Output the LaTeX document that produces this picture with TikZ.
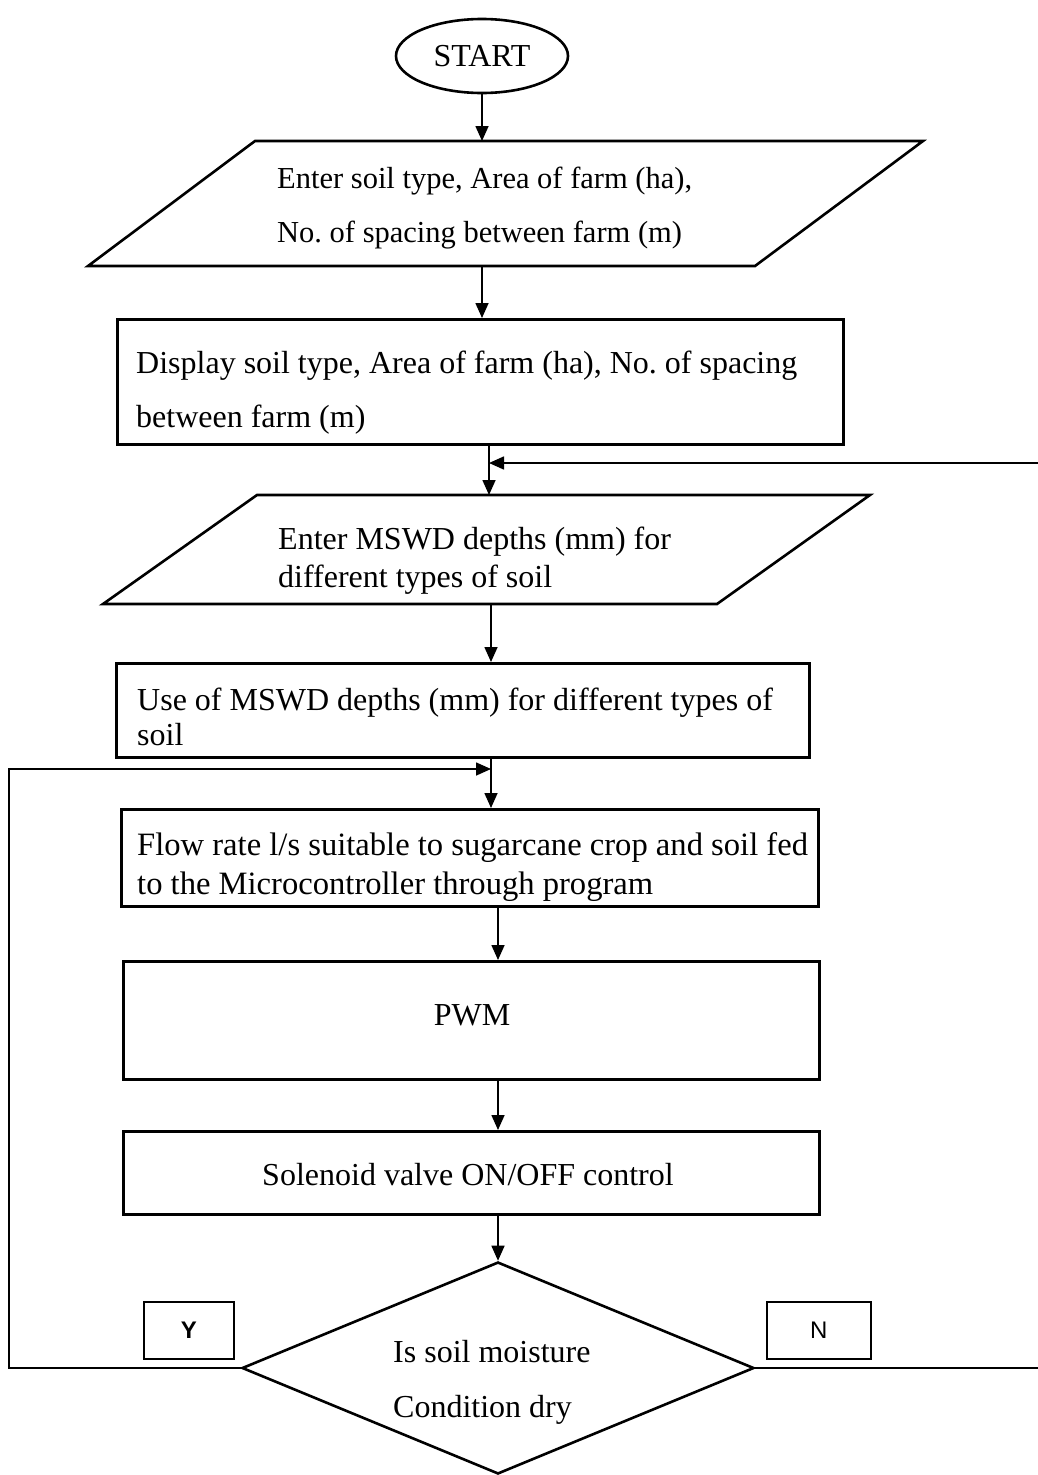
\documentclass[tikz,border=0pt]{standalone}
\usepackage{fontspec}
\setmainfont{Liberation Serif}
\setsansfont{Liberation Sans}
\usetikzlibrary{arrows.meta,shapes.geometric,calc}
\frenchspacing
\begin{document}
\begin{tikzpicture}[x=1pt,y=-1pt,
  shapeline/.style={line width=2.6pt,line join=miter},
  box/.style={draw,line width=2.6pt,inner sep=0pt,anchor=north west},
  lbl/.style={font=\fontsize{32}{38}\selectfont,inner sep=0pt,anchor=base west},
  conn/.style={line width=1.6pt,-{Triangle[length=15pt,width=13pt]}},
  loopline/.style={line width=1.6pt},
  ynbox/.style={draw,line width=1.8pt,inner sep=0pt,anchor=north west,font=\sffamily\fontsize{24}{28}\selectfont}]
\path[use as bounding box,clip] (0,0) rectangle (1038,1475);

% START
\node[ellipse,draw,shapeline,minimum width=172pt,minimum height=74pt,inner sep=0pt,font=\fontsize{32}{38}\selectfont] (start) at (482,56) {START};

% Input 1
\draw[shapeline] (255,141) -- (923,141) -- (755,266) -- (88,266) -- cycle;
\coordinate (p1n) at (482,141);
\coordinate (p1s) at (482,266);
\node[lbl,font=\fontsize{30.5}{36}\selectfont] (t1a) at (277,188) {Enter soil type, Area of farm (ha),};
\node[lbl,font=\fontsize{30.5}{36}\selectfont] (t1b) at (277,242) {No. of spacing between farm (m)};

% Display
\node[box,minimum width=726pt,minimum height=125pt] (r2) at (116,318) {};
\node[lbl] (t2a) at (136,373) {Display soil type, Area of farm (ha), No. of spacing};
\node[lbl] (t2b) at (136,427) {between farm (m)};

% Input 2
\draw[shapeline] (257,495) -- (870,495) -- (717,604) -- (103,604) -- cycle;
\coordinate (p2n) at (489,495);
\coordinate (p2s) at (491,604);
\coordinate (jn1) at (489,463);
\node[lbl] (t3a) at (278,549) {Enter MSWD depths (mm) for};
\node[lbl] (t3b) at (278,587) {different types of soil};

% Use of MSWD
\node[box,minimum width=693pt,minimum height=94pt] (r3) at (115,662) {};
\node[lbl] (t4a) at (137,710) {Use of MSWD depths (mm) for different types of};
\node[lbl] (t4b) at (137,745) {soil};
\coordinate (jn2) at (491,769);

% Flow rate
\node[box,minimum width=697pt,minimum height=97pt] (r4) at (120,808) {};
\node[lbl,font=\fontsize{32.6}{38}\selectfont] (t5a) at (137,855) {Flow rate l/s suitable to sugarcane crop and soil fed};
\node[lbl,font=\fontsize{32.6}{38}\selectfont] (t5b) at (137,894) {to the Microcontroller through program};

% PWM
\node[box,minimum width=696pt,minimum height=118pt] (r5) at (122,960) {};
\node[font=\fontsize{32}{38}\selectfont,inner sep=0pt] (t6) at (472,1015) {PWM};

% Solenoid
\node[box,minimum width=696pt,minimum height=83pt] (r6) at (122,1130) {};
\node[font=\fontsize{32}{38}\selectfont,inner sep=0pt] (t7) at (468,1175) {Solenoid valve ON/OFF control};

% Decision
\node[diamond,draw,shapeline,minimum width=512pt,minimum height=212pt,inner sep=0pt] (dec) at (498,1368) {};
\node[lbl] (t8a) at (393,1362) {Is soil moisture};
\node[lbl] (t8b) at (393,1417) {Condition dry};

% Y / N boxes
\node[ynbox,minimum width=90pt,minimum height=57pt,font=\sffamily\bfseries\fontsize{24}{28}\selectfont] (ybox) at (143,1301) {Y};
\node[ynbox,minimum width=104pt,minimum height=57pt] (nbox) at (766,1301) {N};

% connectors
\draw[conn] (start.south) -- (p1n);
\draw[conn] (p1s) -- (r2.north -| p1s);
\draw[conn] (r2.south -| p2n) -- (p2n);
\draw[conn] (p2s) -- (r3.north -| p2s);
\draw[conn] (r3.south -| jn2) -- (r4.north -| jn2);
\draw[conn] (r4.south -| dec.north) -- (r5.north -| dec.north);
\draw[conn] (r5.south -| dec.north) -- (r6.north -| dec.north);
\draw[conn] (r6.south -| dec.north) -- (dec.north);

% loops
\draw[loopline,-{Triangle[length=15pt,width=13pt]}] (dec.west) -- (9,1368) -- (9,769) -- (jn2);
\draw[loopline,-{Triangle[length=15pt,width=13pt]}] (dec.east) -- (1050,1368) -- (1050,463) -- (jn1);
\end{tikzpicture}
\end{document}
